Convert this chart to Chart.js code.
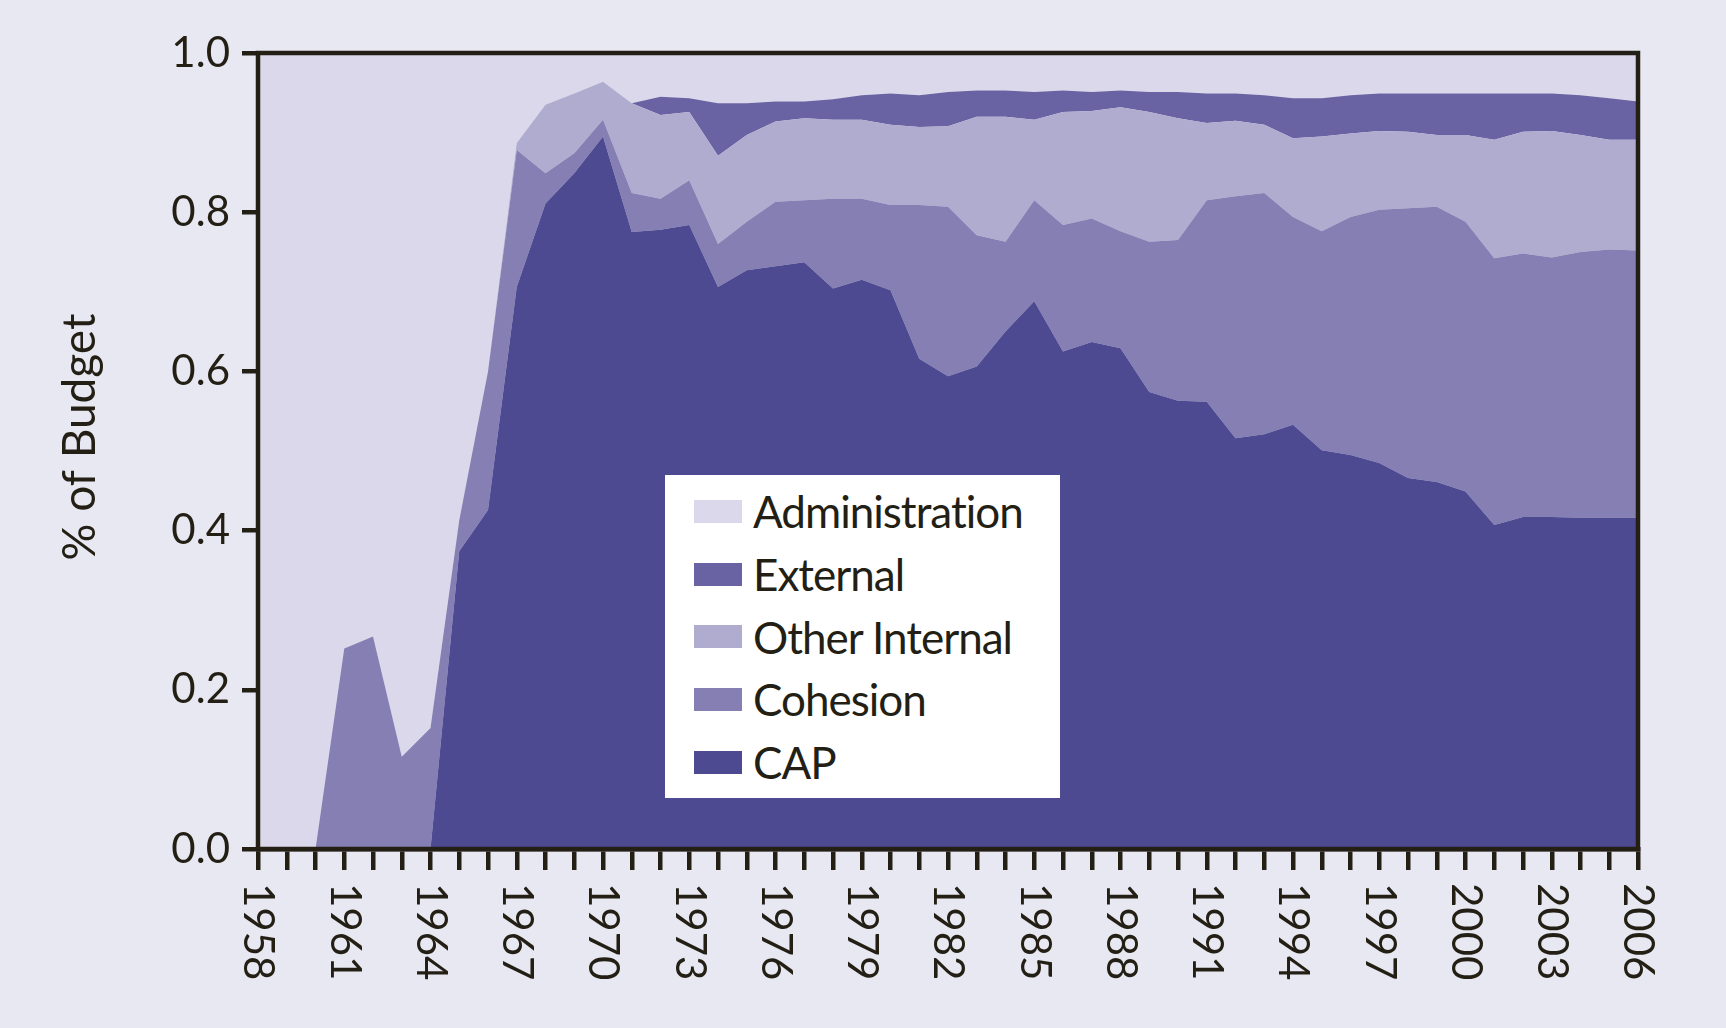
<!DOCTYPE html>
<html>
<head>
<meta charset="utf-8">
<script src="https://cdn.jsdelivr.net/npm/chart.js@4.4.0/dist/chart.umd.min.js"></script>
<style>
  html, body { margin: 0; padding: 0; background: #e8e8f2; }
  #wrap { position: relative; width: 1726px; height: 1028px; }
  #legend { position: absolute; left: 665px; top: 475px; width: 395px; height: 323px;
            background: #fff; box-sizing: border-box; padding-top: 5px; }
  .item { display: flex; align-items: center; height: 62.7px; }
  .sw { width: 48px; height: 23px; margin-left: 29px; margin-right: 11px; flex: none; }
  .lbl { font: 44px Lato; letter-spacing: -1px; color: #231f14; white-space: nowrap; }
</style>
</head>
<body>
<div id="wrap">
  <canvas id="chart"></canvas>
  <div id="legend"></div>
</div>
<script>
const years = ["1958","1959","1960","1961","1962","1963","1964","1965","1966","1967",
  "1968","1969","1970","1971","1972","1973","1974","1975","1976","1977",
  "1978","1979","1980","1981","1982","1983","1984","1985","1986","1987",
  "1988","1989","1990","1991","1992","1993","1994","1995","1996","1997",
  "1998","1999","2000","2001","2002","2003","2004","2005","2006"];

const xTickLabels = ["1958","1961","1964","1967","1970","1973","1976","1979","1982",
  "1985","1988","1991","1994","1997","2000","2003","2006"];

const yTitle = "% of Budget";

// shares of budget per year (stacked bottom to top)
const cap = [0,0,0,0,0,0,0,0.374,0.426,0.706,
  0.811,0.849,0.895,0.775,0.778,0.784,0.706,0.727,0.732,0.737,
  0.704,0.715,0.702,0.616,0.594,0.606,0.650,0.688,0.625,0.637,
  0.629,0.574,0.563,0.562,0.516,0.521,0.533,0.501,0.495,0.485,
  0.466,0.461,0.449,0.407,0.417,0.417,0.416,0.416,0.416];

const cohesion = [0,0,0,0.252,0.267,0.116,0.152,0.039,0.174,0.172,
  0.038,0.025,0.021,0.049,0.039,0.056,0.054,0.061,0.081,0.078,
  0.113,0.102,0.107,0.193,0.213,0.165,0.113,0.127,0.159,0.155,
  0.147,0.189,0.202,0.253,0.304,0.303,0.261,0.275,0.299,0.318,
  0.339,0.346,0.339,0.335,0.331,0.326,0.334,0.337,0.336];

const otherInternal = [0,0,0,0,0,0,0,0,0,0.009,
  0.086,0.075,0.048,0.113,0.105,0.086,0.111,0.109,0.101,0.103,
  0.099,0.099,0.101,0.098,0.101,0.149,0.157,0.101,0.142,0.135,
  0.156,0.163,0.153,0.097,0.095,0.086,0.099,0.119,0.105,0.099,
  0.096,0.090,0.109,0.149,0.153,0.159,0.147,0.138,0.139];

const external = [0,0,0,0,0,0,0,0,0,0,
  0,0,0,0,0.023,0.017,0.066,0.040,0.025,0.021,
  0.026,0.031,0.039,0.040,0.043,0.033,0.033,0.035,0.027,0.024,
  0.021,0.025,0.033,0.037,0.034,0.037,0.050,0.048,0.048,0.047,
  0.048,0.052,0.052,0.058,0.048,0.047,0.050,0.052,0.048];

const administration = [1,1,1,0.748,0.733,0.884,0.848,0.587,0.400,0.113,
  0.065,0.051,0.036,0.063,0.055,0.057,0.063,0.063,0.061,0.061,
  0.058,0.053,0.051,0.053,0.049,0.047,0.047,0.049,0.047,0.049,
  0.047,0.049,0.049,0.051,0.051,0.053,0.057,0.057,0.053,0.051,
  0.051,0.051,0.051,0.051,0.051,0.051,0.053,0.057,0.061];

const ink = "#231f14";
const series = [
  { label: "CAP", data: cap, color: "#4d4a92" },
  { label: "Cohesion", data: cohesion, color: "#857fb3" },
  { label: "Other Internal", data: otherInternal, color: "#b0acd0" },
  { label: "External", data: external, color: "#6a63a3" },
  { label: "Administration", data: administration, color: "#dad8ea" }
];

// rotated year labels, axis title and the frame round the plot
const extras = {
  id: "extras",
  afterDraw(chart) {
    const { ctx, chartArea: a } = chart;
    const xs = chart.scales.x;
    ctx.save();
    ctx.strokeStyle = ink;
    ctx.lineWidth = 4.5;
    ctx.strokeRect(a.left, a.top, a.right - a.left, a.bottom - a.top);
    ctx.fillStyle = ink;
    ctx.font = "42px Lato";
    ctx.textAlign = "left";
    ctx.textBaseline = "middle";
    xTickLabels.forEach(t => {
      const x = xs.getPixelForValue(years.indexOf(t));
      ctx.save();
      ctx.translate(x, a.bottom + 34);
      ctx.rotate(Math.PI / 2);
      ctx.fillText(t, 0, 0);
      ctx.restore();
    });
    ctx.font = "46px Lato";
    ctx.textAlign = "center";
    ctx.save();
    ctx.translate(80, (a.top + a.bottom) / 2 - 14);
    ctx.rotate(-Math.PI / 2);
    ctx.fillText(yTitle, 0, 0);
    ctx.restore();
    ctx.restore();
  }
};

new Chart(document.getElementById("chart"), {
  type: "line",
  data: {
    labels: years,
    datasets: series.map((s, i) => ({
      label: s.label,
      data: s.data,
      backgroundColor: s.color,
      borderWidth: 0,
      pointRadius: 0,
      tension: 0,
      fill: i === 0 ? "origin" : "-1"
    }))
  },
  options: {
    responsive: true,
    maintainAspectRatio: false,
    animation: false,
    layout: { padding: { left: 0, top: 53, right: 88, bottom: 0 } },
    plugins: { legend: { display: false }, tooltip: { enabled: false } },
    scales: {
      x: {
        type: "category",
        offset: false,
        afterFit(s) { s.height = 179; },
        ticks: { display: false, autoSkip: false },
        grid: { display: true, drawOnChartArea: false, drawTicks: true,
                tickLength: 21, lineWidth: 4.5, color: ink },
        border: { display: true, width: 4.5, color: ink }
      },
      y: {
        stacked: true,
        min: 0,
        max: 1,
        afterFit(s) { s.width = 258; },
        ticks: { stepSize: 0.2, padding: 12, color: ink,
                 font: { family: "Lato", size: 42 },
                 callback: v => v.toFixed(1) },
        grid: { display: true, drawOnChartArea: false, drawTicks: true,
                tickLength: 16, lineWidth: 4.5, color: ink },
        border: { display: true, width: 4.5, color: ink }
      }
    }
  },
  plugins: [extras]
});

const legend = document.getElementById("legend");
series.slice().reverse().forEach(s => {
  legend.innerHTML += `
    <div class="item"><div class="sw" style="background:${s.color}"></div>
    <span class="lbl">${s.label}</span></div>`;
});
</script>
</body>
</html>
